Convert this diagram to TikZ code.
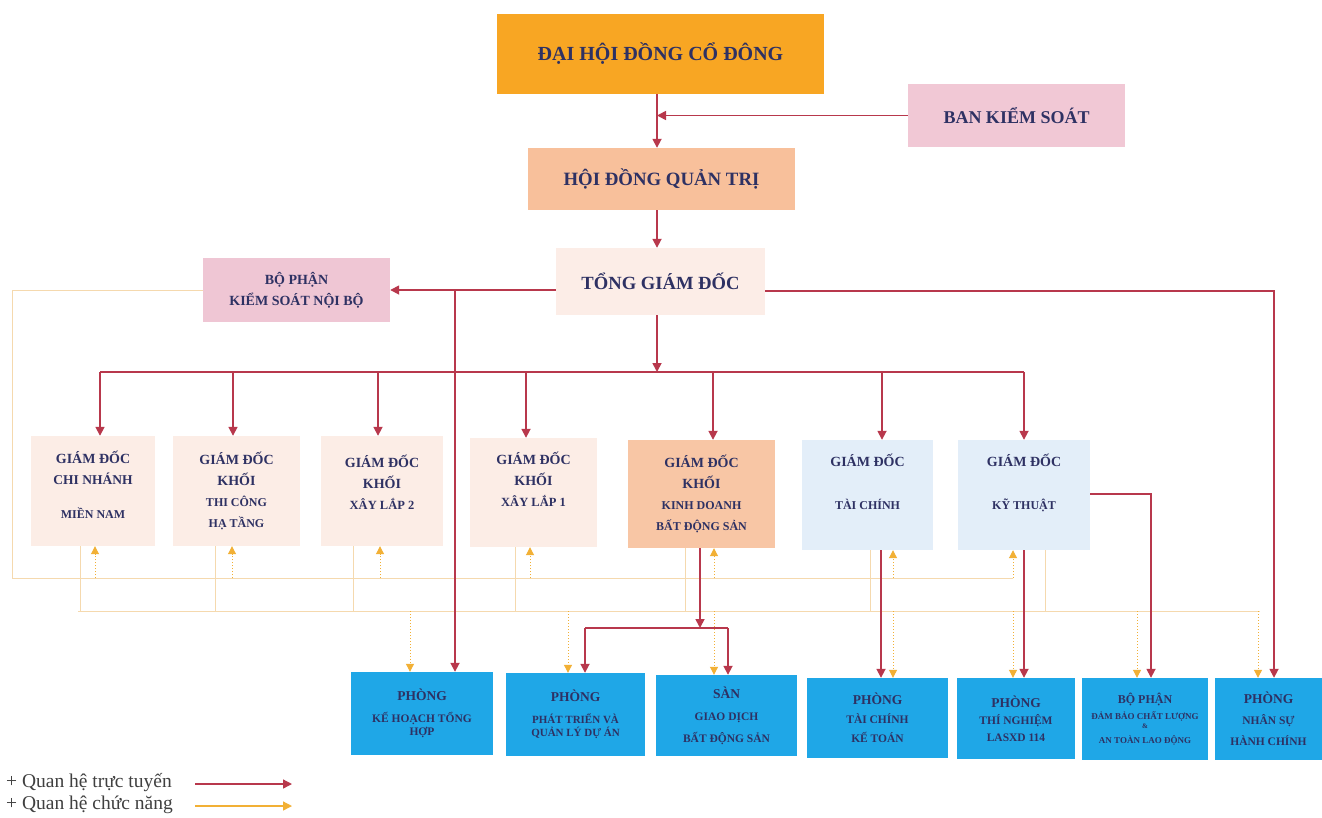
\documentclass[tikz,border=0pt]{standalone}
\usepackage{fontspec}
\setmainfont{Liberation Serif}
\usetikzlibrary{arrows.meta}
\definecolor{navy}{HTML}{2E3163}
\definecolor{rd}{HTML}{B8384C}
\definecolor{og}{HTML}{F2B035}
\definecolor{ogl}{HTML}{F5D9AE}
\definecolor{cDH}{HTML}{F8A623}
\definecolor{cBKS}{HTML}{F1C8D5}
\definecolor{cHD}{HTML}{F8C09B}
\definecolor{cTG}{HTML}{FCEDE7}
\definecolor{cKS}{HTML}{EFC6D4}
\definecolor{cGD}{HTML}{FCEDE6}
\definecolor{cKD}{HTML}{F8C6A5}
\definecolor{cBL}{HTML}{E3EEF9}
\definecolor{cPH}{HTML}{1FA7E7}
\newcommand\fA{\fontsize{14}{21}\selectfont}
\newcommand\fP{\fontsize{13.5}{13}\selectfont}
\newcommand\mybox[8]{\node[box,fill=#2,font={\bfseries\fontsize#7\selectfont},minimum width={#5-#3},minimum height={#6-#4}] (#1) at ({(#3+#5)/2},{(#4+#6)/2}) {#8};}
\begin{document}
\begin{tikzpicture}[x=1pt,y=-1pt,
 box/.style={inner sep=0pt, align=center, text=navy},
 rl/.style={draw=rd, line width=1.7pt, -{Triangle[width=9pt,length=9pt]}},
 rline/.style={draw=rd, line width=1.7pt},
 ol/.style={draw=ogl, line width=0.9pt},
 oa/.style={draw=og, line width=1pt, dotted, -{Triangle[width=8pt,length=8pt]}},
]
\fill[white] (0,0) rectangle (1322,817);
\useasboundingbox (0,0) rectangle (1322,817);

% top level
\mybox{dh}{cDH}{497}{14}{824}{94}{{20}{24}}{ĐẠI HỘI ĐỒNG CỔ ĐÔNG}
\mybox{bks}{cBKS}{908}{84}{1125}{147}{{18}{22}}{BAN KIỂM SOÁT}
\mybox{hd}{cHD}{528}{148}{795}{210}{{18.8}{22}}{HỘI ĐỒNG QUẢN TRỊ}
\mybox{tgd}{cTG}{556}{248}{765}{315}{{18.6}{22}}{TỔNG GIÁM ĐỐC}
\mybox{ksnb}{cKS}{203}{258}{390}{322}{{14}{21}}{BỘ PHẬN\\KIỂM SOÁT NỘI BỘ}

% directors row
\mybox{g1}{cGD}{31}{436}{155}{546}{{12}{21}}{{\fA GIÁM ĐỐC}\\{\fontsize{13.5}{21}\selectfont CHI NHÁNH}\\[13pt]MIỀN NAM\\[-9pt]}
\mybox{g2}{cGD}{173}{436}{300}{546}{{12}{21}}{{\fA GIÁM ĐỐC}\\{\fA KHỐI}\\THI CÔNG\\HẠ TẦNG}
\mybox{g3}{cGD}{321}{436}{443}{546}{{12.5}{21}}{{\fA GIÁM ĐỐC}\\{\fA KHỐI}\\XÂY LẮP 2\\[-3pt]}
\mybox{g4}{cGD}{470}{438}{597}{547}{{12.5}{21}}{{\fA GIÁM ĐỐC}\\{\fA KHỐI}\\XÂY LẮP 1\\[5pt]}
\mybox{g5}{cKD}{628}{440}{775}{548}{{12}{21}}{{\fA GIÁM ĐỐC}\\{\fA KHỐI}\\KINH DOANH\\BẤT ĐỘNG SẢN}
\mybox{g6}{cBL}{802}{440}{933}{550}{{12}{21}}{{\fA GIÁM ĐỐC}\\[22pt]TÀI CHÍNH\\[5pt]}
\mybox{g7}{cBL}{958}{440}{1090}{550}{{12}{21}}{{\fA GIÁM ĐỐC}\\[22pt]KỸ THUẬT\\[5pt]}

% departments row
\mybox{kh}{cPH}{351}{672}{493}{755}{{11.5}{13}}{{\fP PHÒNG}\\[9pt]KẾ HOẠCH TỔNG\\HỢP}
\mybox{pt}{cPH}{506}{673}{645}{756}{{11}{13.5}}{{\fP PHÒNG}\\[8.5pt]PHÁT TRIỂN VÀ\\QUẢN LÝ DỰ ÁN}
\mybox{san}{cPH}{656}{675}{797}{756}{{11.5}{22}}{{\fP SÀN}\\GIAO DỊCH\\BẤT ĐỘNG SẢN}
\mybox{tc}{cPH}{807}{678}{948}{758}{{11.5}{19}}{{\fP PHÒNG}\\TÀI CHÍNH\\KẾ TOÁN}
\mybox{tn}{cPH}{957}{678}{1075}{759}{{11.5}{17}}{{\fP PHÒNG}\\THÍ NGHIỆM\\LASXD 114}
\mybox{db}{cPH}{1082}{678}{1208}{760}{{9}{9}}{{\fontsize{12}{12}\selectfont BỘ PHẬN}\\[5pt]ĐẢM BẢO CHẤT LƯỢNG\\{\fontsize{7}{7}\selectfont\&}\\[6pt]AN TOÀN LAO ĐỘNG}
\mybox{ns}{cPH}{1215}{678}{1322}{760}{{11.5}{21}}{{\fP PHÒNG}\\NHÂN SỰ\\HÀNH CHÍNH}

% helper coordinates
\coordinate (bus) at (0,372);
\coordinate (bus2) at (0,628);
\coordinate (oL) at (12,578);
\coordinate (oR) at (1013,578);
\coordinate (oB1) at (78,611);
\coordinate (oB2) at (1260,611);

% functional (orange) network
\draw[ol] (ksnb.west) -| (oL) -- (oR);
\draw[ol] (oB1) -- (oB2);
\foreach \n/\d in {g1/-13,g2/-21.5,g3/-29,g4/-18.5,g5/-16.5,g6/2.5,g7/21}
  \draw[ol] ([xshift=\d]\n.south) -- ([xshift=\d]\n.south |- oB1);
\foreach \n/\d in {g1/2,g2/-4.5,g3/-2,g4/-3.5,g5/12.5,g6/25.5,g7/-11}
  \draw[oa] ([xshift=\d]\n.south |- oL) -- ([xshift=\d]\n.south);
\foreach \n/\d in {kh/-12,pt/-7.5,san/-12.5,tc/15.5,tn/-3,db/-8,ns/-10.5}
  \draw[oa] ([xshift=\d]\n.north |- oB1) -- ([xshift=\d]\n.north);

% line (red) relations
\draw[rl] ([xshift=-3.5]dh.south) -- ([xshift=-3.5]dh.south |- hd.north);
\draw[rl] (bks.west) -- ([xshift=-3.5]dh.south |- bks.west);
\draw[rl] ([xshift=-4.5]hd.south) -- ([xshift=-4.5]hd.south |- tgd.north);
\draw[rl] (tgd.west |- ksnb.east) -- (ksnb.east);
\draw[rl] ([xshift=33]kh.north |- ksnb.east) -- ([xshift=33]kh.north);
\draw[rl] ([yshift=-9.5]tgd.east) -| ([xshift=5.5]ns.north);
\draw[rl] ([xshift=-3.5]tgd.south) -- ([xshift=-3.5]tgd.south |- bus);
\draw[rline] ([xshift=7]g1.north |- bus) -- (g7.north |- bus);
\foreach \n/\d in {g1/7,g2/-3.5,g3/-4,g4/-7.5,g5/11.5,g6/14.5,g7/0}
  \draw[rl] ([xshift=\d]\n.north |- bus) -- ([xshift=\d]\n.north);
\draw[rl] ([xshift=-1.5]g5.south) -- ([xshift=-1.5]g5.south |- bus2);
\draw[rline] ([xshift=9.5]pt.north |- bus2) -- ([xshift=1.5]san.north |- bus2);
\draw[rl] ([xshift=9.5]pt.north |- bus2) -- ([xshift=9.5]pt.north);
\draw[rl] ([xshift=1.5]san.north |- bus2) -- ([xshift=1.5]san.north);
\draw[rl] ([xshift=13.5]g6.south) -- ([xshift=13.5]g6.south |- tc.north);
\draw[rl] (g7.south) -- (g7.south |- tn.north);
\draw[rl] ([yshift=1]g7.east) -| ([xshift=6]db.north);

% legend
\node[anchor=west, inner sep=0pt, text=black!75, font=\fontsize{19.5}{22}\selectfont] (lg1) at (6,783) {+ Quan hệ trực tuyến};
\node[anchor=west, inner sep=0pt, text=black!75, font=\fontsize{19.5}{22}\selectfont] (lg2) at (6,805) {+ Quan hệ chức năng};
\coordinate (la1) at (195,784);
\coordinate (lb1) at (292,784);
\coordinate (la2) at (195,806);
\coordinate (lb2) at (292,806);
\draw[rl, line width=1.3pt] (la1) -- (lb1);
\draw[draw=og, line width=1.3pt, -{Triangle[width=9pt,length=9pt]}] (la2) -- (lb2);
\end{tikzpicture}
\end{document}
